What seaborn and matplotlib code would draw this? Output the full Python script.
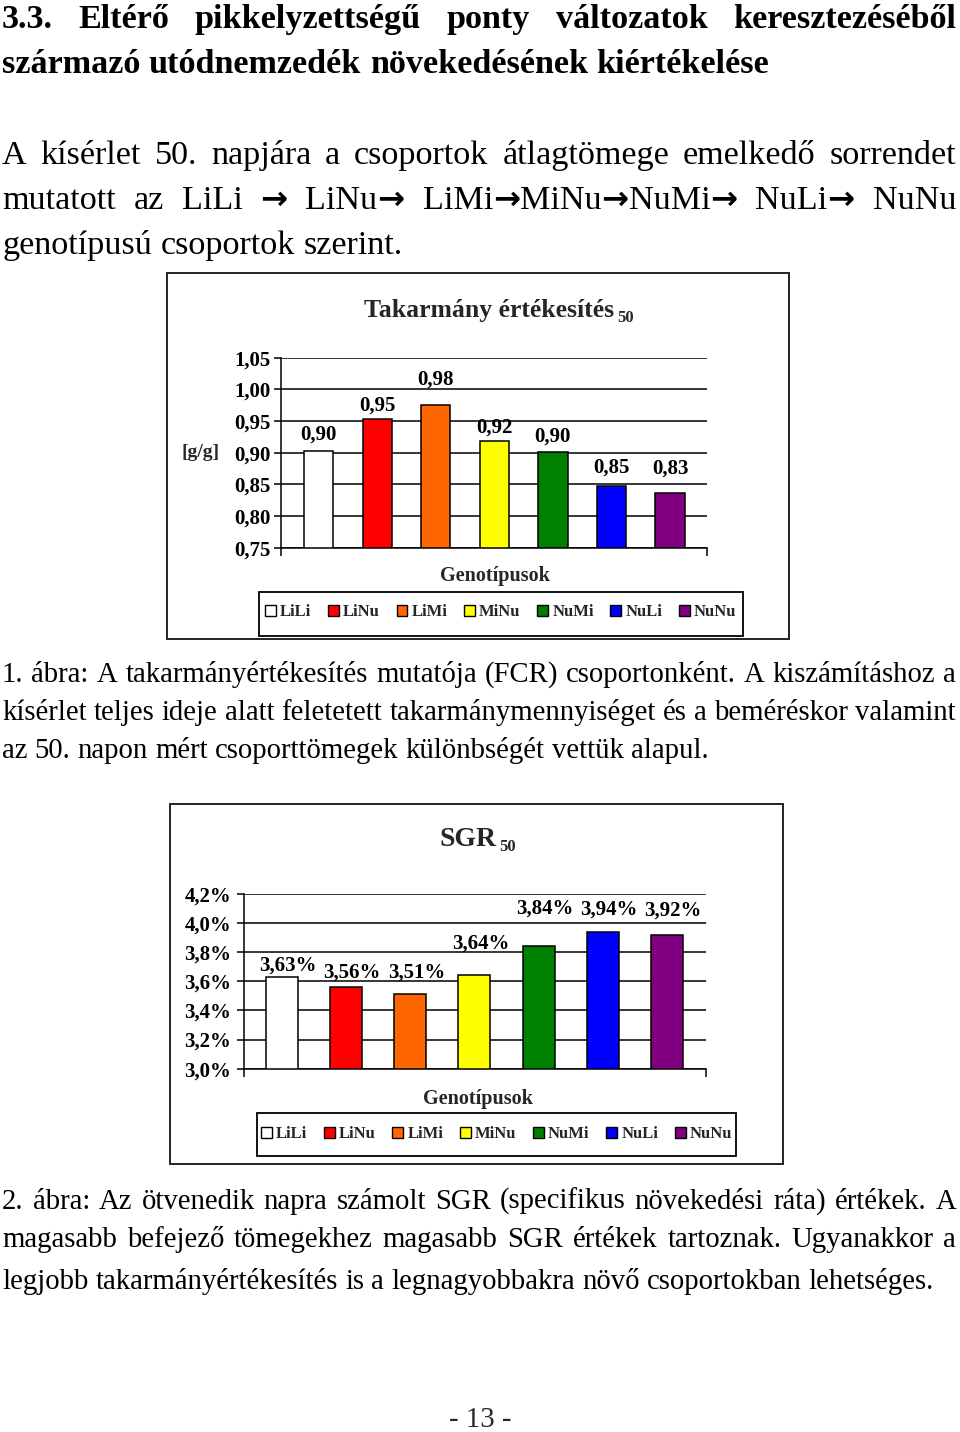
import re
import matplotlib
matplotlib.use('Agg')
import matplotlib.pyplot as plt
import seaborn as sns
import pandas as pd
from matplotlib.patches import Rectangle, Patch

# ---------------- data ----------------
genotypes = ['LiLi', 'LiNu', 'LiMi', 'MiNu', 'NuMi', 'NuLi', 'NuNu']
bar_colors = ['#FFFFFF', '#FF0000', '#FF6600', '#FFFF00', '#008000', '#0000FF', '#800080']

fcr_values = [0.903, 0.954, 0.976, 0.919, 0.901, 0.848, 0.836]
fcr_labels = ['0,90', '0,95', '0,98', '0,92', '0,90', '0,85', '0,83']
fcr_ticks = [0.75, 0.80, 0.85, 0.90, 0.95, 1.00, 1.05]
fcr_ticklabels = ['0,75', '0,80', '0,85', '0,90', '0,95', '1,00', '1,05']

sgr_values = [3.63, 3.56, 3.51, 3.64, 3.84, 3.94, 3.92]
sgr_labels = ['3,63%', '3,56%', '3,51%', '3,64%', '3,84%', '3,94%', '3,92%']
sgr_ticks = [3.0, 3.2, 3.4, 3.6, 3.8, 4.0, 4.2]
sgr_ticklabels = ['3,0%', '3,2%', '3,4%', '3,6%', '3,8%', '4,0%', '4,2%']

# label offsets above bar tops (pixels), as placed in the original
fcr_label_dy = [16, 13, 25, 13, 16, 18, 25]
sgr_label_dy = [11, 14, 22, 32, 38, 22, 24]

heading = ["3.3. Eltérő pikkelyzettségű ponty változatok keresztezéséből",
           "származó utódnemzedék növekedésének kiértékelése"]
para = ["A kísérlet 50. napjára a csoportok átlagtömege emelkedő sorrendet",
        "mutatott az LiLi → LiNu→ LiMi→MiNu→NuMi→ NuLi→ NuNu",
        "genotípusú csoportok szerint."]
cap1 = ["1. ábra: A takarmányértékesítés mutatója (FCR) csoportonként. A kiszámításhoz a",
        "kísérlet teljes ideje alatt feletetett takarmánymennyiséget és a beméréskor valamint",
        "az 50. napon mért csoporttömegek különbségét vettük alapul."]
cap2 = ["2. ábra: Az ötvenedik napra számolt SGR (specifikus növekedési ráta) értékek. A",
        "magasabb befejező tömegekhez magasabb SGR értékek tartoznak. Ugyanakkor a",
        "legjobb takarmányértékesítés is a legnagyobbakra növő csoportokban lehetséges."]
page_no = "- 13 -"

# ---------------- setup ----------------
W, H = 960, 1432
sns.set_theme(style='white')
plt.rcParams['font.family'] = ['Liberation Serif', 'DejaVu Serif']
fig = plt.figure(figsize=(W / 100, H / 100), dpi=100)
fig.patch.set_facecolor('white')
renderer = fig.canvas.get_renderer()

ARROW = '→'


def fx(px):
    return px / W


def fy(py):
    return 1 - py / H


def run_style(run, size, weight):
    if run == ARROW:
        return dict(fontsize=size * 0.95, fontweight='bold', family=['DejaVu Sans'])
    return dict(fontsize=size, fontweight=weight)


def text_width(s, size, weight='normal', **kw):
    t = fig.text(0, 0, s, fontsize=size, fontweight=weight, **kw)
    w = t.get_window_extent(renderer).width
    t.remove()
    return w


def runs_of(word):
    return [r for r in re.split('(' + ARROW + ')', word) if r]


def run_width(r, size, weight):
    st = run_style(r, size, weight)
    fsz = st.pop('fontsize')
    fw = st.pop('fontweight')
    return text_width(r, fsz, fw, **st)


def word_width(word, size, weight):
    return sum(run_width(r, size, weight) for r in runs_of(word))


def draw_word(word, x, base_y, size, weight):
    for r in runs_of(word):
        st = run_style(r, size, weight)
        fig.text(fx(x), fy(base_y), r, ha='left', va='baseline', color='black', **st)
        x += run_width(r, size, weight)


def fit_size(s, target, weight='normal'):
    return 20 * target / text_width(s, 20, weight)


def put_line(s, base_y, size, weight='normal', justify=True, x0=2, x1=956):
    words = s.split(' ')
    widths = [word_width(w, size, weight) for w in words]
    if justify:
        gap = (x1 - x0 - sum(widths)) / (len(words) - 1)
    else:
        gap = size * 100 / 72 * 0.25
    x = x0
    for w, wd in zip(words, widths):
        draw_word(w, x, base_y, size, weight)
        x += wd + gap


# ---------------- page text ----------------
fs_head = fit_size(heading[1], 768, 'bold')
put_line(heading[0], 28, fs_head, 'bold', True)
put_line(heading[1], 73, fs_head, 'bold', False)

fs_para = fit_size(para[2], 400)
put_line(para[0], 164, fs_para, 'normal', True)
put_line(para[1], 209, fs_para, 'normal', True)
put_line(para[2], 254, fs_para, 'normal', False)

fs_cap = fit_size(cap1[2], 705)
put_line(cap1[0], 682, fs_cap, 'normal', True)
put_line(cap1[1], 720, fs_cap, 'normal', True)
put_line(cap1[2], 758, fs_cap, 'normal', False)

put_line(cap2[0], 1209, fs_cap, 'normal', True)
put_line(cap2[1], 1247, fs_cap, 'normal', True)
put_line(cap2[2], 1289, fs_cap, 'normal', False)

fig.text(fx(480), fy(1427), page_no, fontsize=fs_cap, ha='center', va='baseline')


# ---------------- charts ----------------
def frame(x0, y0, x1, y1, lw=1.4, color='#222222'):
    fig.add_artist(Rectangle((fx(x0), fy(y1)), (x1 - x0) / W, (y1 - y0) / H,
                             transform=fig.transFigure, fill=False,
                             edgecolor=color, linewidth=lw))


def title(main, sub, cx, base_main, base_sub, size=18.5, sub_size=12):
    wm = text_width(main, size, 'bold')
    ws = text_width(sub, sub_size, 'bold')
    x = cx - (wm + 3 + ws) / 2
    fig.text(fx(x), fy(base_main), main, fontsize=size, fontweight='bold',
             ha='left', va='baseline')
    fig.text(fx(x + wm + 3), fy(base_sub), sub, fontsize=sub_size,
             fontweight='bold', ha='left', va='baseline')


def bar_chart(rect, values, labels, ticks, ticklabels, xlim, label_dy,
              label_dx, label_size, tick_pad):
    x0, y0, x1, y1 = rect
    ax = fig.add_axes([fx(x0), fy(y1), (x1 - x0) / W, (y1 - y0) / H])
    df = pd.DataFrame({'Genotípus': genotypes, 'Érték': values})
    sns.barplot(data=df, x='Genotípus', y='Érték', hue='Genotípus',
                order=genotypes, hue_order=genotypes, palette=bar_colors,
                saturation=1, width=0.5, dodge=False, edgecolor='black',
                linewidth=1.1, legend=False, ax=ax)
    ax.set_facecolor('white')
    ax.set_ylim(ticks[0], ticks[-1])
    ax.set_xlim(*xlim)
    ax.set_yticks(ticks)
    ax.set_yticklabels(ticklabels, fontweight='bold')
    ax.set_xticks(list(xlim))
    ax.set_xticklabels(['', ''])
    ax.set_xlabel('')
    ax.set_ylabel('')
    ax.yaxis.grid(True, color='black', linewidth=1.1)
    ax.xaxis.grid(False)
    ax.set_axisbelow(True)
    for s in ['top', 'right']:
        ax.spines[s].set_visible(False)
    for s in ['left', 'bottom']:
        ax.spines[s].set_color('black')
        ax.spines[s].set_linewidth(1.1)
    ax.tick_params(axis='y', direction='out', length=5, width=1.1,
                   colors='black', labelsize=15, pad=tick_pad, left=True)
    ax.tick_params(axis='x', direction='out', length=6, width=1.1,
                   colors='black', bottom=True)
    for i, (v, lab, dy) in enumerate(zip(values, labels, label_dy)):
        ax.annotate(lab, xy=(i, v), xytext=(label_dx, dy),
                    textcoords='offset pixels', ha='center', va='center',
                    fontsize=label_size, fontweight='bold',
                    color='black', annotation_clip=False)
    return ax


def legend(cx, cy):
    handles = [Patch(facecolor=c, edgecolor='black', linewidth=1)
               for c in bar_colors]
    fig.legend(handles, genotypes, loc='center',
               bbox_to_anchor=(fx(cx), fy(cy)), ncol=7, frameon=False,
               prop={'family': 'Liberation Serif', 'weight': 'bold', 'size': 12},
               handlelength=0.65, handleheight=0.65, handletextpad=0.25,
               columnspacing=1.0, borderaxespad=0, borderpad=0)


# Chart 1: FCR
frame(167, 273, 789, 639)
title('Takarmány értékesítés', '50', 499, 317.5, 322.5)
bar_chart((280.6, 357.8, 707, 547.8), fcr_values, fcr_labels, fcr_ticks,
          fcr_ticklabels, (-0.649, 6.631), fcr_label_dy, 0, 15, 2)
fig.text(fx(201), fy(453), '[g/g]', fontsize=14, fontweight='bold',
         ha='center', va='center')
fig.text(fx(495), fy(576), 'Genotípusok', fontsize=14.5, fontweight='bold',
         ha='center', va='center')
frame(258.7, 591.5, 743, 636, lw=1.3, color='black')
legend(500.8, 612)

# Chart 2: SGR
frame(170, 804, 783, 1164)
title('SGR', '50', 478, 845.7, 850.7, size=20)
bar_chart((243.9, 893.7, 706.3, 1068.7), sgr_values, sgr_labels, sgr_ticks,
          sgr_ticklabels, (-0.597, 6.617), sgr_label_dy, 6, 15, 4)
fig.text(fx(478), fy(1099), 'Genotípusok', fontsize=14.5, fontweight='bold',
         ha='center', va='center')
frame(257, 1113, 736, 1156, lw=1.3, color='black')
legend(496.5, 1134.5)

fig.savefig('out.png', dpi=100, facecolor='white')
